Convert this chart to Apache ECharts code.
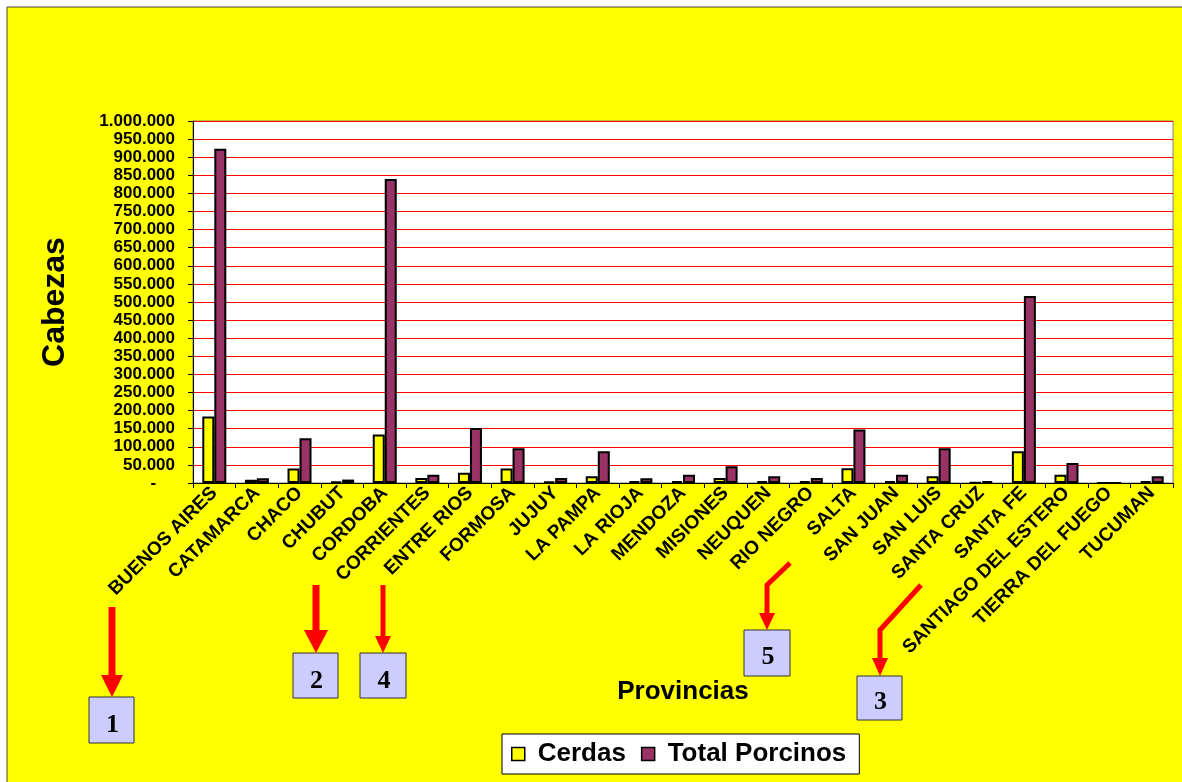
<!DOCTYPE html>
<html>
<head>
<meta charset="utf-8">
<script src="https://cdn.jsdelivr.net/npm/echarts@6/dist/echarts.min.js"></script>
<style>
html,body{margin:0;padding:0;background:#fff;}
#c{width:1182px;height:782px;}
</style>
</head>
<body>
<div id="c"></div>
<script>
var provincias = ['BUENOS AIRES','CATAMARCA','CHACO','CHUBUT','CORDOBA','CORRIENTES','ENTRE RIOS','FORMOSA','JUJUY','LA PAMPA','LA RIOJA','MENDOZA','MISIONES','NEUQUEN','RIO NEGRO','SALTA','SAN JUAN','SAN LUIS','SANTA CRUZ','SANTA FE','SANTIAGO DEL ESTERO','TIERRA DEL FUEGO','TUCUMAN'];
var cerdas = [184000, 9000, 40000, 4500, 134000, 14000, 28000, 40000, 4500, 18500, 5500, 5500, 14000, 5500, 5500, 40500, 5500, 18500, 1500, 87500, 23000, 0, 5500];
var totalPorcinos = [923000, 13000, 123500, 9500, 840000, 23000, 152000, 96000, 13500, 87500, 13000, 23000, 46000, 18500, 13500, 147500, 23000, 96000, 5500, 516500, 55000, 0, 18500];
var seriesNames = ['Cerdas', 'Total Porcinos'];
var annotationLabels = ['1', '2', '4', '5', '3'];

var FONT = '"Liberation Sans", Arial, sans-serif';
var SERIF = '"Liberation Serif", "Times New Roman", serif';

function fmt(v) {
  if (v === 0) return '-    ';
  return String(v).replace(/\B(?=(\d{3})+(?!\d))/g, '.');
}

function box(x, y, w, h, label, ty) {
  return [
    {type: 'rect', shape: {x: x, y: y, width: w, height: h}, style: {fill: '#ccccff', stroke: '#333333', lineWidth: 1}, z: 100},
    {type: 'text', x: x + w / 2 + 1, y: ty, style: {text: label, font: 'bold 26px ' + SERIF, fill: '#000', textAlign: 'center', textVerticalAlign: 'middle'}, z: 101}
  ];
}
function arrowLine(points, w) {
  return {type: 'polyline', shape: {points: points}, style: {stroke: '#ff0000', lineWidth: w, fill: null}, z: 100};
}
function head(x1, x2, yTop, tipX, tipY) {
  return {type: 'polygon', shape: {points: [[x1, yTop], [x2, yTop], [tipX, tipY]]}, style: {fill: '#ff0000'}, z: 100};
}

var graphics = [
  {type: 'rect', shape: {x: 7, y: 7, width: 1200, height: 800}, style: {fill: '#ffff00', stroke: '#444444', lineWidth: 1}, z: -10, silent: true},
  arrowLine([[112, 607], [112, 677]], 7), head(101, 123, 675, 112, 697),
  arrowLine([[316, 585], [316, 632]], 7), head(304, 328, 630, 316, 653),
  arrowLine([[383, 585], [383, 638]], 5), head(375, 391, 636, 383, 653),
  arrowLine([[790, 563], [767, 585], [767, 615]], 5), head(759, 775, 613, 767, 630),
  arrowLine([[921, 585], [880, 630], [880, 660]], 5), head(872, 888, 658, 880, 676)
];
graphics = graphics
  .concat(box(89, 697, 45, 46, annotationLabels[0], 725))
  .concat(box(293, 653, 45, 45, annotationLabels[1], 681))
  .concat(box(360, 653, 46, 45, annotationLabels[2], 681))
  .concat(box(744, 630, 46, 46, annotationLabels[3], 657))
  .concat(box(857, 676, 45, 44, annotationLabels[4], 702));

var chart = echarts.init(document.getElementById('c'), null, {renderer: 'canvas'});
chart.setOption({
  backgroundColor: '#ffffff',
  animation: false,
  textStyle: {fontFamily: FONT},
  graphic: graphics,
  grid: {
    left: 193, top: 121, right: 9, bottom: 299,
    show: true, backgroundColor: '#ffffff', borderColor: '#808080', borderWidth: 1,
    containLabel: false
  },
  legend: {
    data: seriesNames,
    left: 502, top: 734,
    backgroundColor: '#ffffff', borderColor: '#000000', borderWidth: 1,
    padding: [7, 13, 7, 9],
    itemWidth: 13, itemHeight: 13, itemGap: 15,
    icon: 'rect',
    itemStyle: {borderColor: '#000', borderWidth: 1.5},
    textStyle: {fontFamily: FONT, fontWeight: 'bold', fontSize: 26, color: '#000', padding: [0, 0, 0, 8]}
  },
  xAxis: {
    type: 'category',
    data: provincias,
    name: 'Provincias',
    nameLocation: 'middle',
    nameGap: 196,
    nameTextStyle: {fontFamily: FONT, fontWeight: 'bold', fontSize: 26, color: '#000'},
    axisLine: {lineStyle: {color: '#000', width: 1}},
    axisTick: {show: true, alignWithLabel: false, length: 5, lineStyle: {color: '#000'}},
    axisLabel: {interval: 0, rotate: 45, margin: 7, fontFamily: FONT, fontWeight: 'bold', fontSize: 19, color: '#000'},
    splitLine: {show: false}
  },
  yAxis: {
    type: 'value',
    min: 0, max: 1000000, interval: 50000,
    name: 'Cabezas',
    nameLocation: 'middle',
    nameRotate: 90,
    nameGap: 122,
    nameTextStyle: {fontFamily: FONT, fontWeight: 'bold', fontSize: 32, color: '#000'},
    axisLine: {show: true, lineStyle: {color: '#000', width: 1}},
    axisTick: {show: true, length: 5, lineStyle: {color: '#000'}},
    axisLabel: {formatter: fmt, margin: 18, fontFamily: FONT, fontWeight: 'bold', fontSize: 17, color: '#000'},
    splitLine: {show: true, lineStyle: {color: '#ff0000', width: 1}}
  },
  series: [
    {name: seriesNames[0], type: 'bar', data: cerdas, barWidth: 12, barGap: '0%',
     itemStyle: {color: '#ffff00', borderColor: '#000', borderWidth: 2}},
    {name: seriesNames[1], type: 'bar', data: totalPorcinos, barWidth: 12, barGap: '0%',
     itemStyle: {color: '#993366', borderColor: '#000', borderWidth: 2}}
  ]
});
</script>
</body>
</html>
